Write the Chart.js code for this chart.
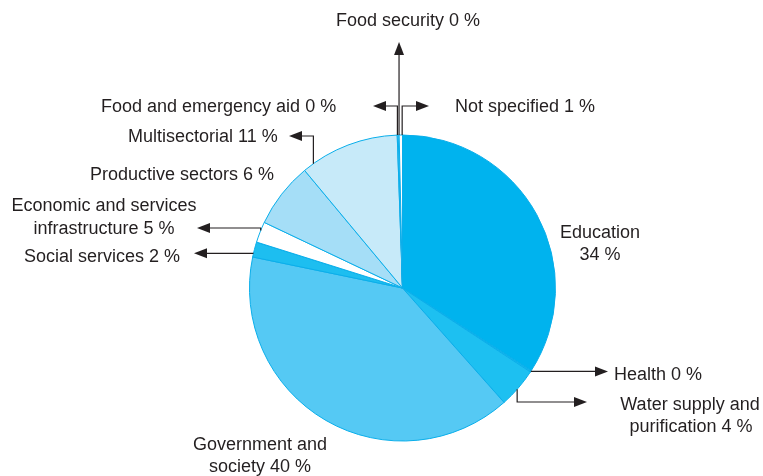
<!DOCTYPE html>
<html>
<head>
<meta charset="utf-8">
<script src="https://cdn.jsdelivr.net/npm/chart.js@4"></script>
<style>
  body { margin: 0; background: #fff; }
  #wrap { width: 763px; height: 476px; position: relative; }
</style>
</head>
<body>
<div id="wrap"><canvas id="pieChart"></canvas></div>
<script>
// clockwise from 12 o'clock
const categories = ['Education', 'Health', 'Water supply and purification', 'Government and society',
  'Social services', 'Economic and services infrastructure', 'Productive sectors', 'Multisectorial',
  'Food and emergency aid', 'Food security', 'Not specified'];
// slice sizes as drawn in the picture (%)
const shares = [34.1, 0.15, 4.2, 39.8, 1.6, 2.2, 6.9, 10.5, 0.1, 0.1, 0.35];
// percentages printed in the labels
const labelPct = [34, 0, 4, 40, 2, 5, 6, 11, 0, 0, 1];
const sliceColors = ['#00b3ee', '#12bcf0', '#1dc0f1', '#55c9f4', '#1dbef0', '#ffffff',
  '#a5def7', '#c7eaf9', '#c7eaf9', '#ffffff', '#ffffff'];

const INK = '#231f20';

// callouts: slice index, where on the slice's arc (0..1), leader path, text lines
const callouts = [
  { i: 0, text: [['Education', 600, 233, 'center'], [labelPct[0] + ' %', 600, 255, 'center']] },
  { i: 1, at: 0.5, path: [['h', 608]], text: [['Health ' + labelPct[1] + ' %', 614, 375, 'left']] },
  { i: 2, at: 0.54, path: [['v', 402], ['h', 587]], text: [['Water supply and', 690, 405, 'center'], ['purification ' + labelPct[2] + ' %', 691, 427, 'center']] },
  { i: 3, text: [['Government and', 260, 445, 'center'], ['society ' + labelPct[3] + ' %', 260, 467, 'center']] },
  { i: 4, at: 0.24, path: [['h', 194]], text: [['Social services ' + labelPct[4] + ' %', 24, 257, 'left']] },
  { i: 5, at: 0.58, path: [['v', 228], ['h', 197]], text: [['Economic and services', 104, 206, 'center'], ['infrastructure ' + labelPct[5] + ' %', 104, 229, 'center']] },
  { i: 6, text: [['Productive sectors ' + labelPct[6] + ' %', 90, 175, 'left']] },
  { i: 7, at: 0.11, path: [['v', 136], ['h', 289]], text: [['Multisectorial ' + labelPct[7] + ' %', 128, 137, 'left']] },
  { i: 8, at: 0.2, path: [['v', 106], ['h', 373]], text: [['Food and emergency aid ' + labelPct[8] + ' %', 101, 107, 'left']] },
  { i: 9, at: 0.9, path: [['v', 42]], text: [['Food security ' + labelPct[9] + ' %', 408, 21, 'center']] },
  { i: 10, at: 0.9, path: [['v', 106], ['h', 429]], text: [['Not specified ' + labelPct[10] + ' %', 455, 107, 'left']] }
];

function arrowHead(ctx, x, y, dx, dy) {
  const len = 13, half = 5;
  const px = -dy, py = dx;
  ctx.beginPath();
  ctx.moveTo(x, y);
  ctx.lineTo(x - dx * len + px * half, y - dy * len + py * half);
  ctx.lineTo(x - dx * len - px * half, y - dy * len - py * half);
  ctx.closePath();
  ctx.fill();
}

const calloutPlugin = {
  id: 'callouts',
  afterDraw(chart) {
    const ctx = chart.ctx;
    const meta = chart.getDatasetMeta(0);
    ctx.save();
    ctx.strokeStyle = INK;
    ctx.fillStyle = INK;
    ctx.lineWidth = 1.2;
    callouts.forEach(c => {
      if (c.path) {
        const arc = meta.data[c.i];
        const a = arc.startAngle + (arc.endAngle - arc.startAngle) * c.at;
        let x = arc.x + Math.cos(a) * arc.outerRadius;
        let y = arc.y + Math.sin(a) * arc.outerRadius;
        let dx = 0, dy = 0;
        ctx.beginPath();
        ctx.moveTo(x, y);
        c.path.forEach((seg, k) => {
          const last = k === c.path.length - 1;
          if (seg[0] === 'h') {
            dx = Math.sign(seg[1] - x); dy = 0;
            x = seg[1];
          } else {
            dy = Math.sign(seg[1] - y); dx = 0;
            y = seg[1];
          }
          ctx.lineTo(last ? x - dx * 10 : x, last ? y - dy * 10 : y);
        });
        ctx.stroke();
        arrowHead(ctx, x, y, dx, dy);
      }
      ctx.font = '18px "Liberation Sans", Arial, Helvetica, sans-serif';
      ctx.textBaseline = 'middle';
      c.text.forEach(t => {
        ctx.textAlign = t[3];
        ctx.fillText(t[0], t[1], t[2]);
      });
    });
    ctx.restore();
  }
};

new Chart(document.getElementById('pieChart'), {
  type: 'pie',
  data: {
    labels: categories,
    datasets: [{
      data: shares,
      backgroundColor: sliceColors,
      borderColor: '#0aaeea',
      borderWidth: 1
    }]
  },
  options: {
    responsive: true,
    maintainAspectRatio: false,
    animation: false,
    rotation: 0,
    layout: { padding: { top: 134, bottom: 34, left: 249, right: 207 } },
    plugins: {
      legend: { display: false },
      tooltip: { enabled: false }
    }
  },
  plugins: [calloutPlugin]
});
</script>
</body>
</html>
